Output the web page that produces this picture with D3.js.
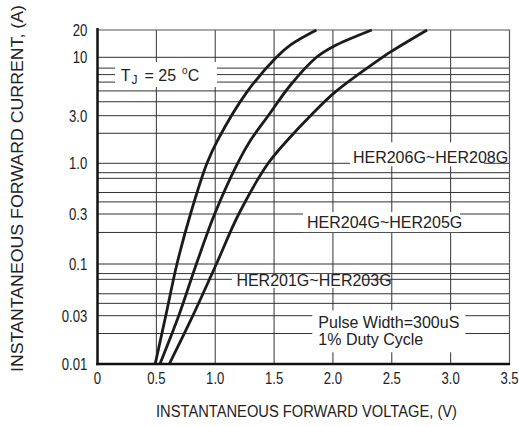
<!DOCTYPE html>
<html>
<head>
<meta charset="utf-8">
<style>
    body { margin: 0; background: #fff; }
    .grid { stroke: #333; stroke-width: 1; }
    .frame { stroke: #555; stroke-width: 1.2; }
    .axis_line { stroke: #111; stroke-width: 2.5; }
    .curve { fill: none; stroke: #1b1b1b; stroke-width: 2.8; }
    .tick { font-family: "Liberation Sans", Arial, sans-serif; font-size: 16px; fill: #222; }
    .note { font-family: "Liberation Sans", Arial, sans-serif; font-size: 16px; fill: #222; }
    .mask { fill: #fff; }
</style>
</head>
<body>
<div id="chart"></div>
<script src="https://cdn.jsdelivr.net/npm/d3@7/dist/d3.min.js"></script>
<script>

//////////////////// data ////////////////////
const xTicks = [0, 0.5, 1.0, 1.5, 2.0, 2.5, 3.0, 3.5];
const xTickLabels = ['0', '0.5', '1.0', '1.5', '2.0', '2.5', '3.0', '3.5'];
const xGrid = [0.5, 1.0, 1.5, 2.0, 2.5, 3.0];

const yTicks = [0.01, 0.03, 0.1, 0.3, 1, 3, 10, 20];
const yTickLabels = ['0.01', '0.03', '0.1', '0.3', '1.0', '3.0', '10', '20'];
const yGrid = [10, 8, 7, 6, 5, 4, 3, 2, 1, 0.8, 0.7, 0.5, 0.4, 0.3, 0.2,
               0.1, 0.08, 0.07, 0.05, 0.04, 0.03, 0.02];

// forward voltage (V) / forward current (A), three curves
const volt1 = [0.49, 0.58, 0.675, 0.79, 0.93, 1.02, 1.27, 1.52, 1.64, 1.86];
const amp1  = [0.01, 0.03, 0.1, 0.3, 1.0, 1.7, 4.9, 10, 13.7, 20];
const volt2 = [0.53, 0.69, 0.84, 0.995, 1.19, 1.30, 1.45, 1.64, 1.86, 2.00, 2.33];
const amp2  = [0.01, 0.03, 0.1, 0.3, 1.0, 1.7, 3.0, 5.65, 10, 13.1, 20];
const volt3 = [0.61, 0.81, 1.01, 1.20, 1.45, 1.65, 1.81, 2.02, 2.42, 2.50, 2.80];
const amp3  = [0.01, 0.03, 0.1, 0.3, 1.0, 1.9, 3.0, 4.9, 10, 11.7, 20];

const xTitle = 'INSTANTANEOUS FORWARD VOLTAGE, (V)';
const yTitle = 'INSTANTANEOUS FORWARD CURRENT, (A)';

//////////////////// layout ////////////////////
const W = 519, H = 426;
// the printed log axis is not evenly spaced, so the scale is piecewise on the labelled ticks
const yPos = [364, 315.7, 264, 214, 163.3, 115.7, 57.3, 30];
const NARROW = 0.82; // tick digits are a condensed face

const x = d3.scaleLinear().domain([0, 3.5]).range([97.5, 509.5]);
const y = d3.scaleLog().domain(yTicks).range(yPos);

const svg = d3.select('#chart').append('svg')
    .attr('width', W)
    .attr('height', H);

// grille
svg.append('g').selectAll('line').data(yGrid).join('line')
    .classed('grid', true)
    .attr('x1', x(0)).attr('x2', x(3.5))
    .attr('y1', d => y(d)).attr('y2', d => y(d));

svg.append('g').selectAll('line').data(xGrid).join('line')
    .classed('grid', true)
    .attr('x1', d => x(d)).attr('x2', d => x(d))
    .attr('y1', y(20)).attr('y2', y(0.01));

// cadre haut / droite
svg.append('path')
    .classed('frame', true)
    .attr('fill', 'none')
    .attr('d', `M ${x(0)} ${y(20)} L ${x(3.5)} ${y(20)} L ${x(3.5)} ${y(0.01)}`);

//////////////////// annotations ////////////////////
// mask = [left, right, top, bottom] around the text anchor, hides the grid behind
const notes = [
    {lines: ['HER206G~HER208G'], v: 2.17, a: 1.0, mask: [-3, 131, -21, 3]},
    {lines: ['HER204G~HER205G'], v: 1.78, a: 0.22, mask: [-4, 153, -16, 4]},
    {lines: ['HER201G~HER203G'], v: 1.18, a: 0.06, mask: [-4.5, 125.5, -12, 2]},
    {lines: ['Pulse Width=300uS', '1% Duty Cycle'], v: 1.876, a: 0.0225, mask: [-6, 147, -18, 24]},
];

notes.forEach(n => {
    let px = x(n.v), py = y(n.a);
    svg.append('rect')
        .classed('mask', true)
        .attr('x', px + n.mask[0])
        .attr('y', py + n.mask[2])
        .attr('width', n.mask[1] - n.mask[0])
        .attr('height', n.mask[3] - n.mask[2]);
    let t = svg.append('text')
        .classed('note', true)
        .attr('x', px)
        .attr('y', py);
    n.lines.forEach((l, idx) => {
        t.append('tspan').attr('x', px).attr('dy', idx == 0 ? 0 : 16.7).text(l);
    });
});

// T_J = 25 °C
const tjV = 0.197, tjA = 6.13;
svg.append('rect')
    .classed('mask', true)
    .attr('x', x(tjV) - 5.7)
    .attr('y', y(tjA) - 19)
    .attr('width', 102)
    .attr('height', 25);
let tj = svg.append('text')
    .classed('note', true)
    .attr('x', x(tjV))
    .attr('y', y(tjA));
tj.append('tspan').text('T');
tj.append('tspan').attr('font-size', 12).attr('dx', 1).attr('dy', 3).text('J');
tj.append('tspan').attr('dx', 7).attr('dy', -3).text('=\u00a025');
tj.append('tspan').attr('font-size', 10).attr('dx', 6).attr('dy', -7).text('o');
tj.append('tspan').attr('dy', 7).text('C');

//////////////////// courbes ////////////////////
const line = d3.line()
    .x(d => x(d[0]))
    .y(d => y(d[1]))
    .curve(d3.curveCatmullRom.alpha(0.5));

[[volt1, amp1], [volt2, amp2], [volt3, amp3]].forEach(([vs, as]) => {
    svg.append('path')
        .classed('curve', true)
        .attr('d', line(vs.map((v, i) => [v, as[i]])));
});

//////////////////// axes ////////////////////
svg.append('line')
    .classed('axis_line', true)
    .attr('x1', x(0)).attr('x2', x(0))
    .attr('y1', y(20) - 2).attr('y2', y(0.01) + 1.2);
svg.append('line')
    .classed('axis_line', true)
    .attr('x1', x(0) - 1.2).attr('x2', x(3.5) + 0.6)
    .attr('y1', y(0.01)).attr('y2', y(0.01));

svg.append('g').selectAll('text').data(yTicks).join('text')
    .classed('tick', true)
    .attr('transform', d => `translate(87.3, ${y(d) + 5.8}) scale(${NARROW}, 1)`)
    .attr('text-anchor', 'end')
    .text((d, i) => yTickLabels[i]);

svg.append('g').selectAll('text').data(xTicks).join('text')
    .classed('tick', true)
    .attr('transform', d => `translate(${x(d)}, 384.3) scale(${NARROW}, 1)`)
    .attr('text-anchor', 'middle')
    .text((d, i) => xTickLabels[i]);

svg.append('text')
    .classed('note', true)
    .attr('x', 306.5)
    .attr('y', 416.5)
    .attr('text-anchor', 'middle')
    .attr('textLength', 301)
    .attr('lengthAdjust', 'spacingAndGlyphs')
    .text(xTitle);

svg.append('text')
    .classed('note', true)
    .attr('transform', 'translate(22.5, 188.5) rotate(-90)')
    .attr('text-anchor', 'middle')
    .attr('font-size', 17.5)
    .attr('textLength', 367)
    .attr('lengthAdjust', 'spacingAndGlyphs')
    .text(yTitle);

</script>
</body>
</html>
